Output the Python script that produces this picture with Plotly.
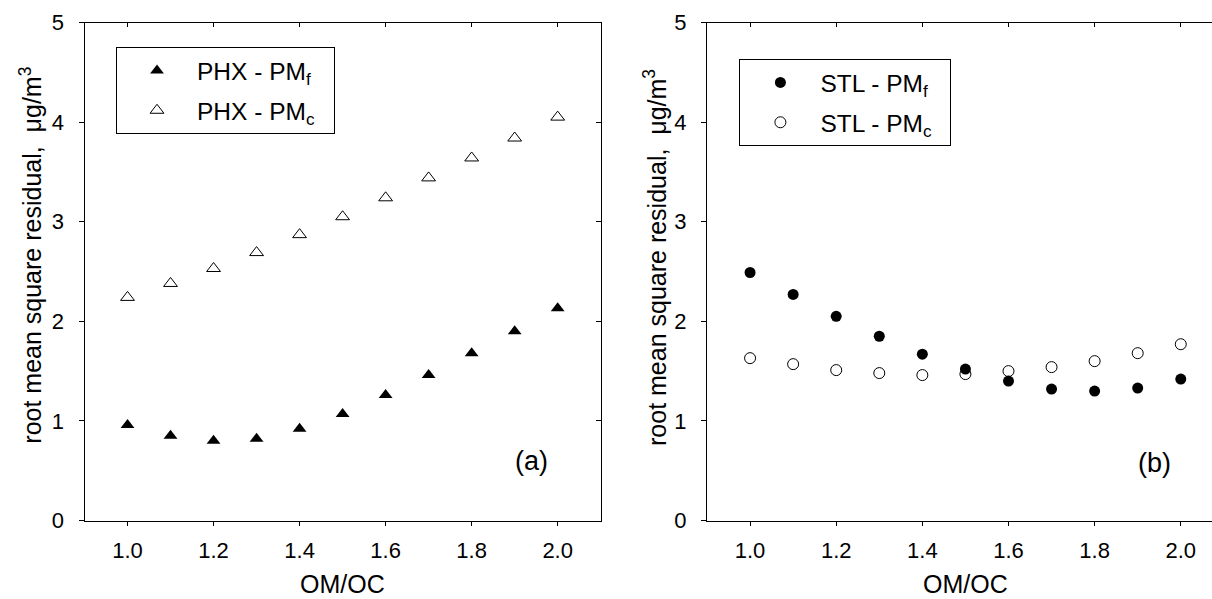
import plotly.graph_objects as go

# OM/OC ratios tested
om_oc = [1.0, 1.1, 1.2, 1.3, 1.4, 1.5, 1.6, 1.7, 1.8, 1.9, 2.0]

# Root mean square residuals, ug/m3
phx_fine = [0.96, 0.85, 0.80, 0.82, 0.92, 1.07, 1.26, 1.46, 1.68, 1.90, 2.13]
phx_coarse = [2.24, 2.38, 2.53, 2.69, 2.87, 3.05, 3.24, 3.44, 3.64, 3.84, 4.05]
stl_fine = [2.49, 2.27, 2.05, 1.85, 1.67, 1.52, 1.40, 1.32, 1.30, 1.33, 1.42]
stl_coarse = [1.63, 1.57, 1.51, 1.48, 1.46, 1.47, 1.50, 1.54, 1.60, 1.68, 1.77]

x_ticks = [1.0, 1.2, 1.4, 1.6, 1.8, 2.0]
x_tick_text = ["1.0", "1.2", "1.4", "1.6", "1.8", "2.0"]
y_ticks = [0, 1, 2, 3, 4, 5]

FONT = "Arial, Liberation Sans, Helvetica, sans-serif"
W, H = 1212, 599
PAD = "\u00a0\u00a0"  # a little room on the right of legend labels

fig = go.Figure()

fig.add_trace(go.Scatter(
    x=om_oc, y=phx_fine, mode="markers", name="PHX - PM<sub>f</sub>" + PAD,
    marker=dict(symbol="triangle-up", size=12, color="black"),
    xaxis="x", yaxis="y", legend="legend", legendgroup="phx_f"))
fig.add_trace(go.Scatter(
    x=om_oc, y=phx_coarse, mode="markers", name="PHX - PM<sub>c</sub>" + PAD,
    marker=dict(symbol="triangle-up-open", size=12, color="black", line=dict(width=1)),
    xaxis="x", yaxis="y", legend="legend", legendgroup="phx_c"))
fig.add_trace(go.Scatter(
    x=om_oc, y=stl_fine, mode="markers", name="STL - PM<sub>f</sub>" + PAD,
    marker=dict(symbol="circle", size=11, color="black"),
    xaxis="x2", yaxis="y2", legend="legend2", legendgroup="stl_f"))
fig.add_trace(go.Scatter(
    x=om_oc, y=stl_coarse, mode="markers", name="STL - PM<sub>c</sub>" + PAD,
    marker=dict(symbol="circle-open", size=11, color="black", line=dict(width=1)),
    xaxis="x2", yaxis="y2", legend="legend2", legendgroup="stl_c"))

# panel geometry in pixels
left_x0, left_x1 = 84.5, 600.7
right_x0, right_x1 = 707.0, 1212.0
plot_top, plot_bot = 22.5, 520.5
ydom = [1 - plot_bot / H, 1 - plot_top / H]
x_range_left = [0.9, 2.1]
x_range_right = [0.9, 0.9 + (right_x1 - right_x0) / 430.7]

tickfont = dict(family=FONT, size=22, color="black")
axis_line = dict(showgrid=False, zeroline=False, showline=True, linecolor="black",
                 linewidth=1, tickcolor="black", tickwidth=1, tickfont=tickfont,
                 automargin=False)
common_x = dict(tickvals=x_ticks, ticktext=x_tick_text, **axis_line)
common_y = dict(range=[0, 5], tickvals=y_ticks, **axis_line)

legend_style = dict(xanchor="left", yanchor="top", bordercolor="black", borderwidth=1,
                    bgcolor="white", itemwidth=70, traceorder="grouped",
                    tracegroupgap=5,
                    font=dict(family=FONT, size=24.5, color="black"))

fig.update_layout(
    template="none",
    width=W, height=H,
    margin=dict(l=0, r=0, t=0, b=0, pad=0, autoexpand=False),
    paper_bgcolor="white", plot_bgcolor="white",
    font=dict(family=FONT, color="black"),
    xaxis=dict(domain=[left_x0 / W, left_x1 / W], range=x_range_left, anchor="y",
               ticks="outside", ticklen=4, ticklabelstandoff=6, **common_x),
    yaxis=dict(domain=ydom, anchor="x", ticks="outside", ticklen=5,
               ticklabelstandoff=10, **common_y),
    xaxis3=dict(overlaying="x", side="top", anchor="y", range=x_range_left,
                ticks="inside", ticklen=4, showticklabels=False, **common_x),
    yaxis3=dict(overlaying="y", side="right", anchor="x", ticks="inside", ticklen=5,
                showticklabels=False, **common_y),
    xaxis2=dict(domain=[right_x0 / W, 1.0], range=x_range_right, anchor="y2",
                ticks="outside", ticklen=4, ticklabelstandoff=6, **common_x),
    yaxis2=dict(domain=ydom, anchor="x2", ticks="outside", ticklen=5,
                ticklabelstandoff=10, **common_y),
    xaxis4=dict(overlaying="x2", side="top", anchor="y2", range=x_range_right,
                ticks="inside", ticklen=4, showticklabels=False, **common_x),
    legend=dict(x=116 / W, y=1 - 47 / H, **legend_style),
    legend2=dict(x=739.4 / W, y=1 - 59 / H, **legend_style),
    showlegend=True,
)

# overlay axes for the mirrored frame ticks
fig.add_trace(go.Scatter(x=[], y=[], xaxis="x3", yaxis="y3", showlegend=False))
fig.add_trace(go.Scatter(x=[], y=[], xaxis="x4", yaxis="y2", showlegend=False))

title_font = dict(family=FONT, size=25, color="black")
ytitle = "root mean square residual,  \u03bcg/m<sup>3</sup>"
fig.add_annotation(text=ytitle, textangle=-90, xref="paper", yref="paper",
                   x=30.7 / W, y=1 - 255 / H, showarrow=False, font=title_font,
                   xanchor="center", yanchor="middle")
fig.add_annotation(text=ytitle, textangle=-90, xref="paper", yref="paper",
                   x=655 / W, y=1 - 258 / H, showarrow=False, font=title_font,
                   xanchor="center", yanchor="middle")
fig.add_annotation(text="OM/OC", xref="paper", yref="paper",
                   x=(left_x0 + left_x1) / 2 / W, y=0, showarrow=False, borderpad=0,
                   font=title_font, xanchor="center", yanchor="bottom")
fig.add_annotation(text="OM/OC", xref="paper", yref="paper",
                   x=965.5 / W, y=0, showarrow=False, borderpad=0,
                   font=title_font, xanchor="center", yanchor="bottom")

panel_font = dict(family=FONT, size=27, color="black")
fig.add_annotation(text="(a)", xref="x", yref="y", x=1.94, y=0.60, showarrow=False,
                   font=panel_font, xanchor="center", yanchor="middle")
fig.add_annotation(text="(b)", xref="x2", yref="y2", x=1.94, y=0.58, showarrow=False,
                   font=panel_font, xanchor="center", yanchor="middle")

fig.write_html("out.html")
